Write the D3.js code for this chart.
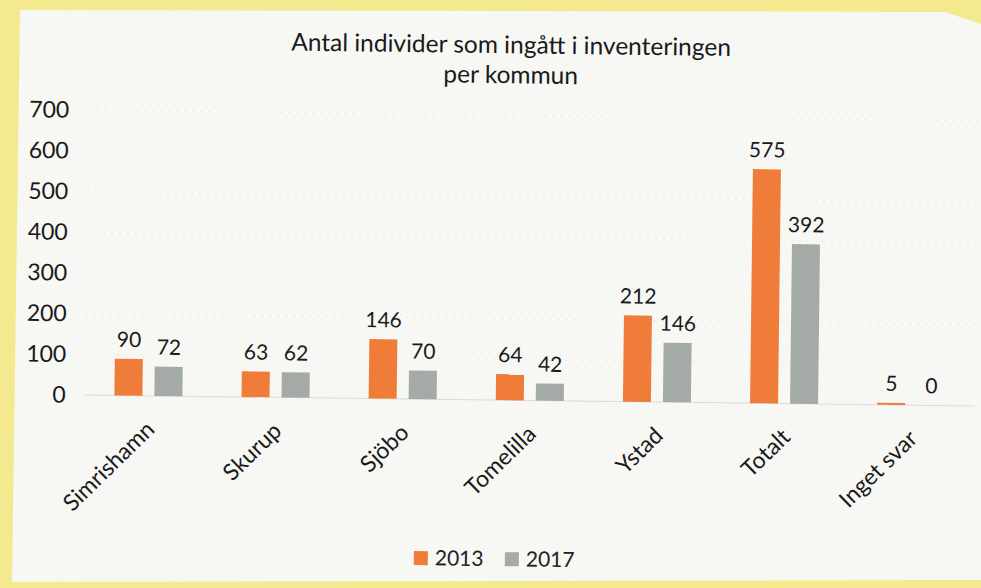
<!DOCTYPE html>
<html lang="sv">
<head>
    <meta charset="UTF-8">
    <title>Antal individer per kommun</title>
    <style>
        html, body {
            margin: 0;
            padding: 0;
            background: #f3e98e;
            font-family: Lato, 'Open Sans', sans-serif;
        }

        text {
            font-family: Lato, 'Open Sans', sans-serif;
        }

        .y.axis .tick text {
            font-size: 23px;
            fill: #1a1a1a;
        }

        .x.axis .tick text {
            font-size: 23px;
            fill: #1a1a1a;
        }

        .grid line {
            stroke: #e4e4e4;
            stroke-dasharray: 2, 6;
        }

        .value-label {
            font-size: 21px;
            fill: #1a1a1a;
        }

        .title {
            font-size: 24.5px;
            fill: #1a1a1a;
        }

        .legend text {
            font-size: 21px;
            fill: #222;
        }
    </style>
</head>
<body>
    <div id="chart"></div>

    <script src="https://d3js.org/d3.v7.min.js"></script>
    <script>
        const categories = ["Simrishamn", "Skurup", "Sjöbo", "Tomelilla", "Ystad", "Totalt", "Inget svar"];
        const seriesNames = ["2013", "2017"];
        const values2013 = [90, 63, 146, 64, 212, 575, 5];
        const values2017 = [72, 62, 70, 42, 146, 392, 0];
        const yTicks = [0, 100, 200, 300, 400, 500, 600, 700];
        const titleLines = ["Antal individer som ingått i inventeringen", "per kommun"];

        const width = 981;
        const height = 588;
        const colors = { "2013": "#f07c39", "2017": "#a4aaa6" };

        const data = categories.map((c, i) => ({
            category: c,
            values: [
                { series: "2013", value: values2013[i] },
                { series: "2017", value: values2017[i] }
            ]
        }));

        const svg = d3.select('#chart')
            .append('svg')
            .attr('width', width)
            .attr('height', height);

        // the scanned page, a bit off square on the yellow backing
        svg.append('polygon')
            .attr('points', '20,10 945,12 981,24 981,580 12,582')
            .attr('fill', '#f7f7f4');

        // whole chart is tilted slightly like the scan
        const g = svg.append('g')
            .attr('transform', 'rotate(0.7, 490, 300)');

        const xScale = d3.scaleBand()
            .domain(categories)
            .range([86, 976]);

        const xInner = d3.scaleBand()
            .domain(seriesNames)
            .range([-34, 34])
            .paddingInner(0.3);

        const yScale = d3.scaleLinear()
            .domain([0, 700])
            .range([400, 115]);

        // gridlines
        g.append('g')
            .attr('class', 'grid')
            .selectAll('line')
            .data(yTicks.slice(1))
            .enter()
                .append('line')
                .attr('x1', 86)
                .attr('x2', 976)
                .attr('y1', d => yScale(d))
                .attr('y2', d => yScale(d));

        g.append('line')
            .attr('x1', 86)
            .attr('x2', 976)
            .attr('y1', yScale(0))
            .attr('y2', yScale(0))
            .attr('stroke', '#dadada');

        // y axis
        const yAxis = d3.axisLeft(yScale)
            .tickValues(yTicks)
            .tickSize(0)
            .tickPadding(0);

        g.append('g')
            .attr('class', 'y axis')
            .attr('transform', 'translate(67, 0)')
            .call(yAxis)
            .attr('font-family', null)
            .attr('font-size', null)
            .select('.domain').remove();

        // x axis
        const xAxis = d3.axisBottom(xScale)
            .tickSize(0)
            .tickPadding(0);

        g.append('g')
            .attr('class', 'x axis')
            .attr('transform', `translate(0, ${yScale(0)})`)
            .call(xAxis)
            .attr('font-family', null)
            .attr('font-size', null)
            .select('.domain').remove();

        g.select('.x.axis')
            .selectAll('text')
                .attr('text-anchor', 'end')
                .attr('dy', null)
                .attr('y', 0)
                .attr('transform', 'translate(8, 35) rotate(-45)');

        // bars
        const groups = g.selectAll('.cat')
            .data(data)
            .enter()
                .append('g')
                .attr('class', 'cat')
                .attr('transform', d => `translate(${xScale(d.category) + xScale.bandwidth() / 2}, 0)`);

        groups.selectAll('rect')
            .data(d => d.values)
            .enter()
                .append('rect')
                .attr('x', d => xInner(d.series))
                .attr('width', xInner.bandwidth())
                .attr('y', d => yScale(d.value))
                .attr('height', d => Math.max(yScale(0) - yScale(d.value), 0))
                .attr('fill', d => colors[d.series]);

        groups.selectAll('.value-label')
            .data(d => d.values)
            .enter()
                .append('text')
                .attr('class', 'value-label')
                .attr('text-anchor', 'middle')
                .attr('x', d => xInner(d.series) + xInner.bandwidth() / 2)
                .attr('y', d => yScale(d.value) - 12)
                .text(d => d.value);

        // title
        g.selectAll('.title')
            .data(titleLines)
            .enter()
                .append('text')
                .attr('class', 'title')
                .attr('text-anchor', 'middle')
                .attr('x', 508)
                .attr('y', (d, i) => 53 + i * 30)
                .text(d => d);

        // legend
        const legend = g.append('g')
            .attr('class', 'legend')
            .attr('transform', 'translate(417, 552)');

        const legendItems = legend.selectAll('g')
            .data(seriesNames)
            .enter()
                .append('g')
                .attr('transform', (d, i) => `translate(${i * 91}, 0)`);

        legendItems.append('rect')
            .attr('width', 14)
            .attr('height', 14)
            .attr('fill', d => colors[d]);

        legendItems.append('text')
            .attr('x', 21)
            .attr('y', 14)
            .text(d => d);
    </script>
</body>
</html>
